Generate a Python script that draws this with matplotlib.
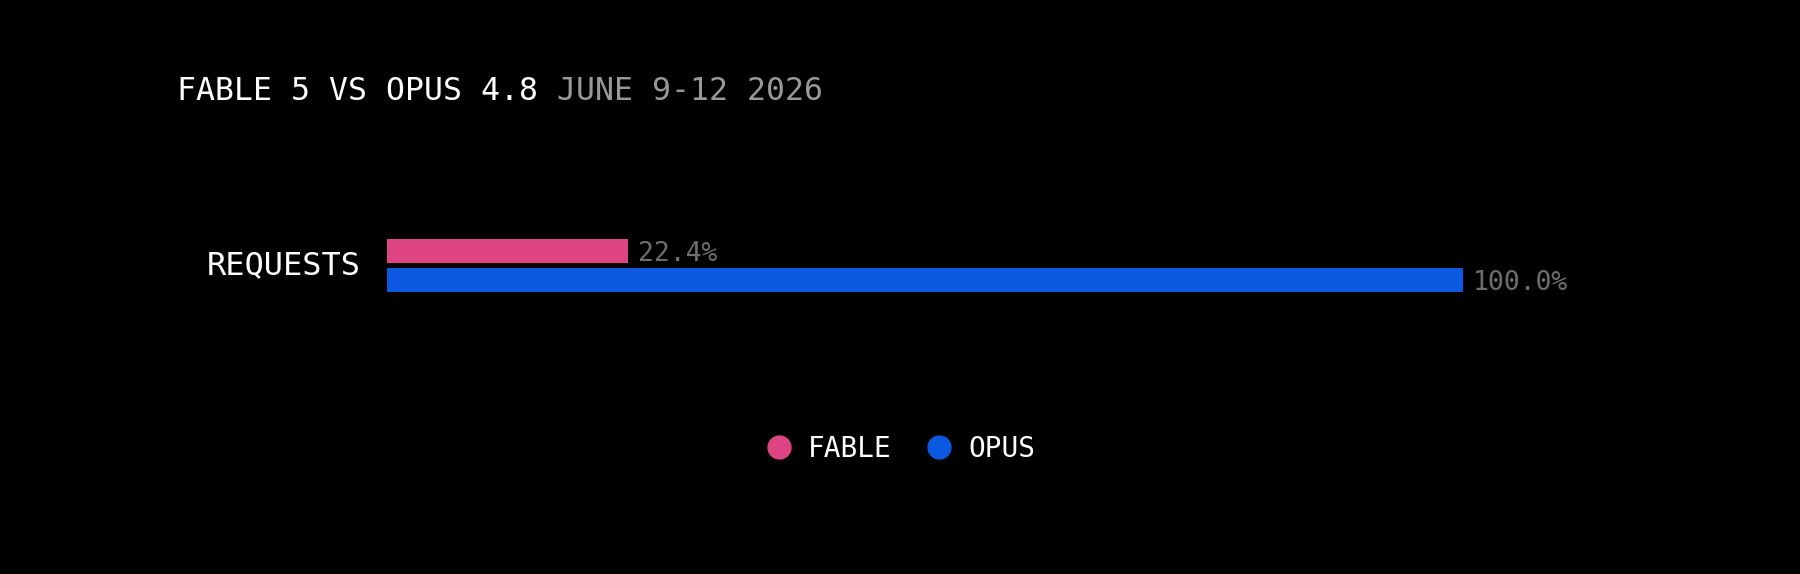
import matplotlib
matplotlib.use("Agg")
import matplotlib.pyplot as plt
from matplotlib.lines import Line2D

# data
categories = ["REQUESTS"]
series_names = ["FABLE", "OPUS"]
fable_values = [22.4]
opus_values = [100.0]
colors = ["#DF4482", "#0A59E0"]

plt.rcParams['font.family'] = ['DejaVu Sans Mono', 'DejaVu Sans']

W, H = 1800, 574
fig = plt.figure(figsize=(W / 100, H / 100), dpi=100, facecolor="black")

# bar axes placed in pixels
ax_left, ax_width = 387 / W, 1076 / W
ax_height = 120 / H
ax_bottom = 1 - (265.5 + 60) / H
ax = fig.add_axes([ax_left, ax_bottom, ax_width, ax_height])
ax.set_facecolor("black")

bar_h = 0.4
off = 0.245
ypos = list(range(len(categories)))
for vals, sign, col in [(fable_values, -1, colors[0]), (opus_values, 1, colors[1])]:
    ys = [y + sign * off for y in ypos]
    ax.barh(ys, vals, height=bar_h, color=col)
    for y, v in zip(ys, vals):
        ax.annotate(f"{v:.1f}%", xy=(v, y), xytext=(7, 0), textcoords="offset points",
                    ha="left", va="center_baseline", color="#6E6E6E", fontsize=19)

ax.set_xlim(0, 100)
ax.set_ylim(1, -1)
ax.set_yticks(ypos)
ax.set_yticklabels(categories, color="white", fontsize=23, va="center")
ax.tick_params(axis="y", length=0, pad=19)
ax.set_xticks([])
for s in ax.spines.values():
    s.set_visible(False)

# title
t = fig.text(177 / W, 1 - 92 / H, "FABLE 5 VS OPUS 4.8", color="white",
             fontsize=22.7, ha="left", va="center")
ax.annotate(" JUNE 9-12 2026", xy=(1, 0), xycoords=t, ha="left", va="bottom",
            color="#999999", fontsize=22.7, annotation_clip=False)

# legend
handles = [Line2D([0], [0], marker="o", linestyle="none", markersize=16.5,
                  markerfacecolor=c, markeredgecolor=c) for c in colors]
leg = fig.legend(handles, series_names, loc="center", bbox_to_anchor=(0.5, 1 - 449 / H),
                 ncol=2, frameon=False, fontsize=20, handlelength=1.0,
                 handletextpad=0.54, columnspacing=1.22)
for txt in leg.get_texts():
    txt.set_color("white")

fig.savefig("out.png", dpi=100, facecolor="black")
